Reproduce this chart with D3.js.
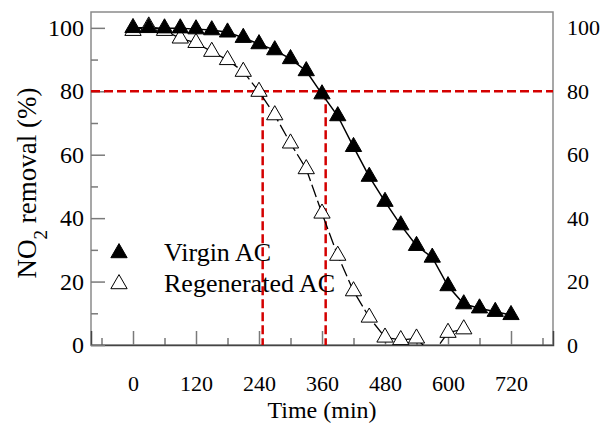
<!DOCTYPE html>
<html>
<head>
<meta charset="utf-8">
<script src="https://cdn.jsdelivr.net/npm/d3@7"></script>
<style>
  body { margin: 0; background: #fff; }
  svg text { font-family: "Liberation Serif", "Times New Roman", serif; fill: #000; }
</style>
</head>
<body>
<svg id="chart"></svg>
<script>
// data
var virginTime = [0, 30, 60, 90, 120, 150, 180, 210, 240, 270, 300, 330, 360, 390, 420, 450, 480, 510, 540, 570, 600, 630, 660, 690, 720]
var virginNO2 = [100, 100, 99.9, 99.9, 99.6, 99.3, 98.6, 96.9, 94.9, 93.0, 90.2, 86.4, 79.1, 72.2, 62.5, 53.1, 45.2, 37.8, 31.3, 27.6, 18.6, 12.9, 11.6, 10.5, 9.5]
var regenTime = [0, 30, 60, 90, 120, 150, 180, 210, 240, 270, 300, 330, 360, 390, 420, 450, 480, 510, 540, 570, 600, 630]
var regenNO2 = [99.1, 100.5, 99.1, 96.7, 95.3, 92.5, 89.9, 86.2, 79.9, 72.5, 63.6, 55.5, 41.5, 28.2, 17.0, 8.7, 2.4, 1.6, 2.1, -3, 3.9, 5.0]
var xMajor = [0, 120, 240, 360, 480, 600, 720]
var xMinor = [-60, 60, 180, 300, 420, 540, 660, 780]
var yMajor = [0, 20, 40, 60, 80, 100]
var yMinor = [10, 30, 50, 70, 90]
var refLevel = 80
var refTimes = [247, 367]

var virgin = virginTime.map((t, i) => ({t: t, v: virginNO2[i]}))
var regen = regenTime.map((t, i) => ({t: t, v: regenNO2[i]}))

var svg = d3.select('#chart')
.attr('width', 601)
.attr('height', 423)

var pLeft = 91, pTop = 12, pRight = 553, pBottom = 345

var xScale = d3.scaleLinear()
.domain([-80, 800])
.range([pLeft, pRight])
var yScale = d3.scaleLinear()
.domain([0, 105])
.range([pBottom, pTop])

// clip for the plot area
svg.append('clipPath').attr('id', 'plotclip')
  .append('rect')
  .attr('x', pLeft).attr('y', pTop)
  .attr('width', pRight - pLeft).attr('height', pBottom - pTop)

// frame
svg.append('rect')
  .attr('x', pLeft).attr('y', pTop)
  .attr('width', pRight - pLeft).attr('height', pBottom - pTop)
  .attr('fill', 'none')
  .attr('stroke', '#8a8a8a')
  .attr('stroke-width', 1.5)

// x axis (ticks pointing inward)
var xAxisMajor = d3.axisBottom(xScale).tickValues(xMajor).tickSize(-14).tickPadding(46).tickFormat(d3.format('d'))
var xAxisMinor = d3.axisBottom(xScale).tickValues(xMinor).tickSize(-7).tickFormat('')
var gx = svg.append('g').attr('transform', `translate(0,${pBottom})`).call(xAxisMajor)
var gx2 = svg.append('g').attr('transform', `translate(0,${pBottom})`).call(xAxisMinor)
gx.selectAll('text').style('font-size', '22px').attr('dy', '0')
gx.selectAll('.tick line').attr('stroke', '#7a7a7a').attr('stroke-width', 1.5)
gx2.selectAll('.tick line').attr('stroke', '#555').attr('stroke-width', 1.2)
gx.select('.domain').attr('stroke', '#444').attr('stroke-width', 1.5)
gx2.select('.domain').remove()

// y axis left
var yAxisMajor = d3.axisLeft(yScale).tickValues(yMajor).tickSize(-14).tickPadding(7)
var yAxisMinor = d3.axisLeft(yScale).tickValues(yMinor).tickSize(-7).tickFormat('')
var gy = svg.append('g').attr('transform', `translate(${pLeft},0)`).call(yAxisMajor)
var gy2 = svg.append('g').attr('transform', `translate(${pLeft},0)`).call(yAxisMinor)
gy.selectAll('text').style('font-size', '24px')
gy.selectAll('.tick line').attr('stroke', '#7a7a7a').attr('stroke-width', 1.5)
gy2.selectAll('.tick line').attr('stroke', '#7a7a7a').attr('stroke-width', 1.5)
gy.select('.domain').remove()
gy2.select('.domain').remove()

// y axis right (labels only)
var gyr = svg.append('g').attr('transform', `translate(${pRight},0)`)
  .call(d3.axisRight(yScale).tickValues(yMajor).tickSize(0).tickPadding(14))
gyr.selectAll('text').style('font-size', '22px')
gyr.select('.domain').remove()

// axis titles
svg.append('text')
  .attr('x', (pLeft + pRight) / 2)
  .attr('y', 418)
  .style('text-anchor', 'middle')
  .style('font-size', '24px')
  .text('Time (min)')

var ylab = svg.append('text')
  .attr('transform', 'translate(36,' + 183 + ') rotate(-90)')
  .style('text-anchor', 'middle')
  .style('font-size', '27px')
ylab.append('tspan').text('NO')
ylab.append('tspan').attr('baseline-shift', 'sub').style('font-size', '19px').text('2')
ylab.append('tspan').text(' removal (%)')

var plot = svg.append('g').attr('clip-path', 'url(#plotclip)')

// red reference lines
plot.append('line')
  .attr('x1', pLeft).attr('x2', pRight)
  .attr('y1', yScale(refLevel)).attr('y2', yScale(refLevel))
  .attr('stroke', '#d40000').attr('stroke-width', 2.5)
  .attr('stroke-dasharray', '9,4')
plot.selectAll('.vref')
  .data(refTimes)
  .enter()
  .append('line')
  .attr('class', 'vref')
  .attr('x1', d => xScale(d)).attr('x2', d => xScale(d))
  .attr('y1', yScale(refLevel)).attr('y2', pBottom)
  .attr('stroke', '#d40000').attr('stroke-width', 2.5)
  .attr('stroke-dasharray', '9,4')

// curves
var line = d3.line()
.x(d => xScale(d.t))
.y(d => yScale(d.v))

plot.append('path')
  .datum(virgin)
  .attr('d', line)
  .attr('fill', 'none')
  .attr('stroke', '#000')
  .attr('stroke-width', 1.5)

plot.append('path')
  .datum(regen)
  .attr('d', line)
  .attr('fill', 'none')
  .attr('stroke', '#000')
  .attr('stroke-width', 1.3)
  .attr('stroke-dasharray', '13,4')

// markers
var tri = d3.symbol().type(d3.symbolTriangle).size(115)

plot.selectAll('.regen')
  .data(regen)
  .enter()
  .append('path')
  .attr('class', 'regen')
  .attr('d', tri)
  .attr('transform', d => `translate(${xScale(d.t)},${yScale(d.v)})`)
  .attr('fill', '#fff')
  .attr('stroke', '#000')
  .attr('stroke-width', 1)

plot.selectAll('.virgin')
  .data(virgin)
  .enter()
  .append('path')
  .attr('class', 'virgin')
  .attr('d', tri)
  .attr('transform', d => `translate(${xScale(d.t)},${yScale(d.v)})`)
  .attr('fill', '#000')
  .attr('stroke', '#000')
  .attr('stroke-width', 1)

// legend
svg.append('path')
  .attr('d', tri)
  .attr('transform', 'translate(119,253)')
  .attr('fill', '#000')
  .attr('stroke', '#000')
svg.append('path')
  .attr('d', tri)
  .attr('transform', 'translate(119,284)')
  .attr('fill', '#fff')
  .attr('stroke', '#000')
svg.append('text')
  .attr('x', 164)
  .attr('y', 261)
  .style('font-size', '26px')
  .text('Virgin AC')
svg.append('text')
  .attr('x', 164)
  .attr('y', 292)
  .style('font-size', '26px')
  .text('Regenerated AC')
</script>
</body>
</html>
